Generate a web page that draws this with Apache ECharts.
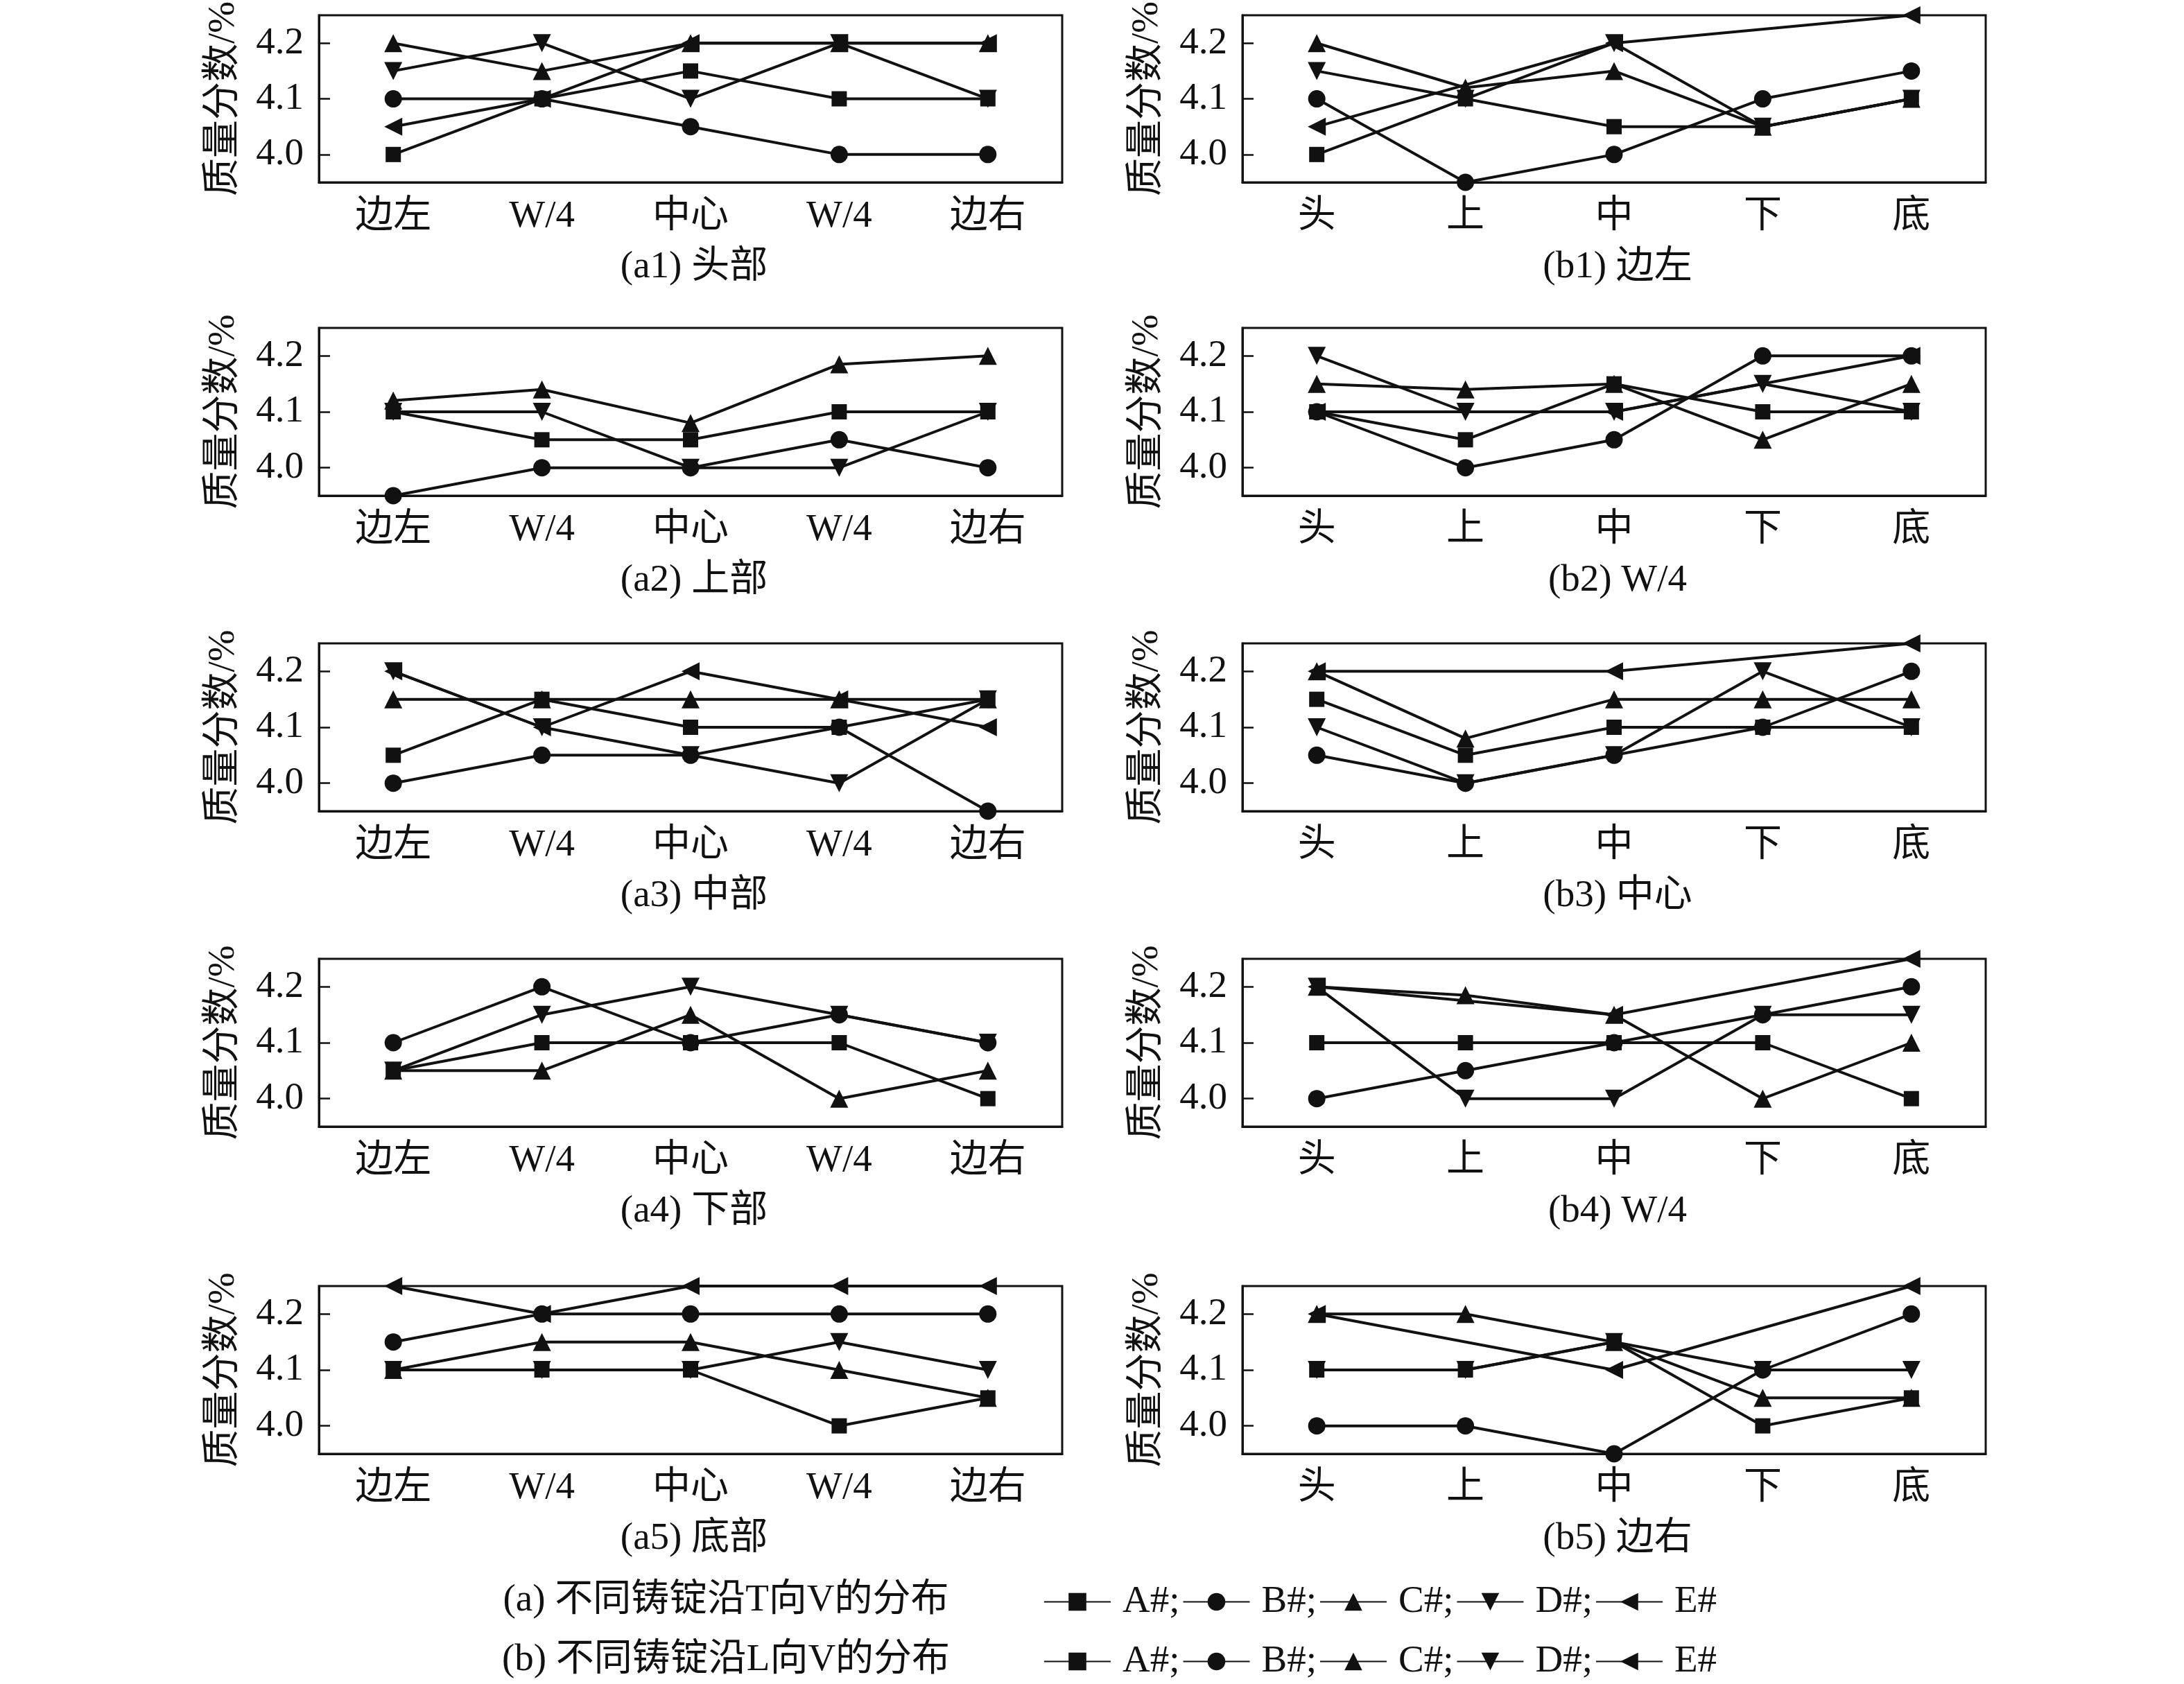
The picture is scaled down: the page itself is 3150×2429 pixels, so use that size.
<!DOCTYPE html>
<html>
<head>
<meta charset="utf-8">
<script src="https://cdn.jsdelivr.net/npm/echarts@6/dist/echarts.min.js"></script>
<style>
html,body{margin:0;padding:0;background:#fff;}
#chart{width:3150px;height:2429px;}
</style>
</head>
<body>
<div id="chart"></div>
<script>
// ---------- data ----------
const catT = ['边左', 'W/4', '中心', 'W/4', '边右'];
const catL = ['头', '上', '中', '下', '底'];
const seriesNames = ['A#', 'B#', 'C#', 'D#', 'E#'];
const yTicks = [4.0, 4.1, 4.2];
const panelTitles = ['(a1) 头部', '(a2) 上部', '(a3) 中部', '(a4) 下部', '(a5) 底部',
                     '(b1) 边左', '(b2) W/4', '(b3) 中心', '(b4) W/4', '(b5) 边右'];
const rowLabels = ['(a) 不同铸锭沿T向V的分布', '(b) 不同铸锭沿L向V的分布'];

// each panel: rows = A#, B#, C#, D#, E#
const a1 = [
  [4.00, 4.10, 4.15, 4.10, 4.10],
  [4.10, 4.10, 4.05, 4.00, 4.00],
  [4.20, 4.15, 4.20, 4.20, 4.20],
  [4.15, 4.20, 4.10, 4.20, 4.10],
  [4.05, 4.10, 4.20, 4.20, 4.20]
];
const a2 = [
  [4.10, 4.05, 4.05, 4.10, 4.10],
  [3.95, 4.00, 4.00, 4.05, 4.00],
  [4.12, 4.14, 4.08, 4.185, 4.20],
  [4.10, 4.10, 4.00, 4.00, 4.10],
  [null, null, null, null, null]
];
const a3 = [
  [4.05, 4.15, 4.10, 4.10, 4.15],
  [4.00, 4.05, 4.05, 4.10, 3.95],
  [4.15, 4.15, 4.15, 4.15, 4.15],
  [4.20, 4.10, 4.05, 4.00, 4.15],
  [4.20, 4.10, 4.20, 4.15, 4.10]
];
const a4 = [
  [4.05, 4.10, 4.10, 4.10, 4.00],
  [4.10, 4.20, 4.10, 4.15, 4.10],
  [4.05, 4.05, 4.15, 4.00, 4.05],
  [4.05, 4.15, 4.20, 4.15, 4.10],
  [null, null, null, null, null]
];
const a5 = [
  [4.10, 4.10, 4.10, 4.00, 4.05],
  [4.15, 4.20, 4.20, 4.20, 4.20],
  [4.10, 4.15, 4.15, 4.10, 4.05],
  [4.10, 4.10, 4.10, 4.15, 4.10],
  [4.25, 4.20, 4.25, 4.25, 4.25]
];
const b1 = [
  [4.00, 4.10, 4.05, 4.05, 4.10],
  [4.10, 3.95, 4.00, 4.10, 4.15],
  [4.20, 4.12, 4.15, 4.05, 4.10],
  [4.15, 4.10, 4.20, 4.05, 4.10],
  [4.05, null, 4.20, null, 4.25]
];
const b2 = [
  [4.10, 4.05, 4.15, 4.10, 4.10],
  [4.10, 4.00, 4.05, 4.20, 4.20],
  [4.15, 4.14, 4.15, 4.05, 4.15],
  [4.20, 4.10, 4.10, 4.15, 4.10],
  [4.10, null, 4.10, null, 4.20]
];
const b3 = [
  [4.15, 4.05, 4.10, 4.10, 4.10],
  [4.05, 4.00, 4.05, 4.10, 4.20],
  [4.20, 4.08, 4.15, 4.15, 4.15],
  [4.10, 4.00, 4.05, 4.20, 4.10],
  [4.20, null, 4.20, null, 4.25]
];
const b4 = [
  [4.10, 4.10, 4.10, 4.10, 4.00],
  [4.00, 4.05, 4.10, 4.15, 4.20],
  [4.20, 4.185, 4.15, 4.00, 4.10],
  [4.20, 4.00, 4.00, 4.15, 4.15],
  [4.20, null, 4.15, null, 4.25]
];
const b5 = [
  [4.10, 4.10, 4.15, 4.00, 4.05],
  [4.00, 4.00, 3.95, 4.10, 4.20],
  [4.20, 4.20, 4.15, 4.05, 4.05],
  [4.10, 4.10, 4.15, 4.10, 4.10],
  [4.20, null, 4.10, null, 4.25]
];
const panelsA = [a1, a2, a3, a4, a5];
const panelsB = [b1, b2, b3, b4, b5];

// ---------- styling / layout ----------
const INK = '#111';
const FONT = "'Liberation Serif', 'Noto Sans CJK SC', serif";
const FS = 55;
const symbols = ['rect', 'circle', 'triangle', 'path://M0,0L10,0L5,10Z', 'path://M10,0L10,10L0,5Z'];
const symSizes = [22, 25, 26, 26, 26];
const rowTops = [21, 473, 928, 1383, 1855];
const gridH = 242;
const gridW = 1072;
const colLefts = [460, 1792];

const grids = [], xAxes = [], yAxes = [], series = [], titles = [];
let gi = 0;
[panelsA, panelsB].forEach((panels, col) => {
  panels.forEach((panel, row) => {
    const left = colLefts[col], top = rowTops[row];
    grids.push({ left: left, top: top, width: gridW, height: gridH, show: true,
      borderColor: INK, borderWidth: 3, backgroundColor: 'transparent' });
    xAxes.push({ type: 'category', gridIndex: gi, data: col === 0 ? catT : catL,
      axisLine: { lineStyle: { color: INK, width: 3 } },
      axisTick: { inside: true, alignWithLabel: true, length: 16, lineStyle: { color: INK, width: 2.5 } },
      axisLabel: { color: INK, fontSize: FS, fontFamily: FONT, margin: 22, interval: 0 },
      splitLine: { show: false } });
    yAxes.push({ type: 'value', gridIndex: gi, min: 3.95, max: 4.25,
      axisLine: { show: true, lineStyle: { color: INK, width: 3 } },
      axisTick: { show: true, inside: true, length: 16, customValues: yTicks, lineStyle: { color: INK, width: 2.5 } },
      axisLabel: { color: INK, fontSize: FS, fontFamily: FONT, margin: 22, customValues: yTicks,
        formatter: v => Number(v).toFixed(1) },
      splitLine: { show: false },
      name: '质量分数/%', nameLocation: 'middle', nameRotate: 90, nameGap: 110,
      nameTextStyle: { color: INK, fontSize: FS, fontFamily: FONT } });
    panel.forEach((vals, si) => {
      series.push({ type: 'line', name: seriesNames[si], xAxisIndex: gi, yAxisIndex: gi,
        data: vals, symbol: symbols[si], symbolSize: symSizes[si], showAllSymbol: true,
        connectNulls: true, clip: false,
        lineStyle: { color: INK, width: 4 }, itemStyle: { color: INK },
        emphasis: { disabled: true }, animation: false });
    });
    titles.push({ text: panelTitles[gi], left: left + gridW / 2, top: top + gridH + 90,
      textAlign: 'center',
      textStyle: { color: INK, fontSize: FS, fontFamily: FONT, fontWeight: 'normal' } });
    gi++;
  });
});
titles.push({ text: rowLabels[0], left: 1042, top: 2276, textAlign: 'center',
  textStyle: { color: INK, fontSize: FS, fontFamily: FONT, fontWeight: 'normal' } });
titles.push({ text: rowLabels[1], left: 1042, top: 2362, textAlign: 'center',
  textStyle: { color: INK, fontSize: FS, fontFamily: FONT, fontWeight: 'normal' } });

const legendBase = {
  data: seriesNames, orient: 'horizontal', left: 1500, itemWidth: 96, itemHeight: 32, itemGap: 4,
  textStyle: { color: INK, fontSize: FS, fontFamily: FONT, padding: [0, 0, 0, 12] },
  formatter: n => n === 'E#' ? n : n + ';', selectedMode: false
};
const legends = [
  Object.assign({}, legendBase, { top: 2278 }),
  Object.assign({}, legendBase, { top: 2364 })
];

const chart = echarts.init(document.getElementById('chart'), null, { renderer: 'canvas' });
chart.setOption({
  backgroundColor: '#fff',
  animation: false,
  title: titles,
  legend: legends,
  grid: grids,
  xAxis: xAxes,
  yAxis: yAxes,
  series: series
});
</script>
</body>
</html>
